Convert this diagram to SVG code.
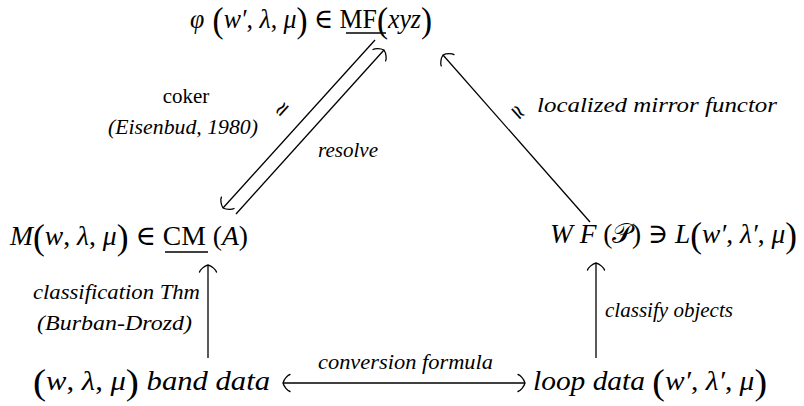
<svg xmlns="http://www.w3.org/2000/svg" width="804" height="406" viewBox="0 0 804 406">
<defs>
<style>
.m { font-family: "Liberation Serif", "DejaVu Serif", serif; font-size: 28px; fill: #000; }
.i { font-style: italic; }
.bp { font-size: 36px; font-style: normal; }
.lab { font-family: "Liberation Serif", "DejaVu Serif", serif; font-size: 21px; fill: #000; }
.conn line { stroke: #000; stroke-width: 1.3; fill: none; }
.ul { stroke: #000; stroke-width: 1.3; }
</style>
<marker id="to" viewBox="-10 -10 12 20" refX="0" refY="0" markerWidth="12" markerHeight="20" markerUnits="userSpaceOnUse" orient="auto-start-reverse">
<path d="M-7,-8.5 C-5,-8 -1,-4 0,0 C-1,4 -5,8 -7,8.5" fill="none" stroke="#000" stroke-width="1.3" stroke-linecap="round"/>
</marker>
</defs>
<rect width="804" height="406" fill="#fff"/>

<g id="node-mf">
<text class="m" x="190" y="28" textLength="242" lengthAdjust="spacingAndGlyphs"><tspan class="i">φ</tspan><tspan class="bp" dy="4"> (</tspan><tspan class="i" dy="-4">w′</tspan>, <tspan class="i">λ</tspan>, <tspan class="i">μ</tspan><tspan class="bp" dy="4">)</tspan><tspan dy="-4"> ∈ </tspan>MF<tspan class="bp" dy="4">(</tspan><tspan class="i" dy="-4">xyz</tspan><tspan class="bp" dy="4">)</tspan></text>
<line class="ul" x1="346" y1="33" x2="386" y2="33"/>
</g>

<g id="node-cm">
<text class="m" x="10" y="245" textLength="238" lengthAdjust="spacingAndGlyphs"><tspan class="i">M</tspan><tspan class="bp" dy="4">(</tspan><tspan class="i" dy="-4">w</tspan>, <tspan class="i">λ</tspan>, <tspan class="i">μ</tspan><tspan class="bp" dy="4">)</tspan><tspan dy="-4"> ∈ </tspan>CM (<tspan class="i">A</tspan>)</text>
<line class="ul" x1="165" y1="252" x2="208" y2="252"/>
</g>

<g id="node-wf">
<text class="m" x="550" y="243" textLength="247" lengthAdjust="spacingAndGlyphs"><tspan class="i">W F</tspan> (𝒫) ∋ <tspan class="i">L</tspan><tspan class="bp" dy="4">(</tspan><tspan class="i" dy="-4">w′</tspan>, <tspan class="i">λ′</tspan>, <tspan class="i">μ</tspan><tspan class="bp" dy="4">)</tspan></text>
</g>

<g id="node-band">
<text class="m" x="33" y="390" textLength="237" lengthAdjust="spacingAndGlyphs"><tspan class="bp" dy="4">(</tspan><tspan class="i" dy="-4">w</tspan>, <tspan class="i">λ</tspan>, <tspan class="i">μ</tspan><tspan class="bp" dy="4">)</tspan><tspan class="i" dy="-4">  band data</tspan></text>
</g>

<g id="node-loop">
<text class="m" x="533" y="390" textLength="234" lengthAdjust="spacingAndGlyphs"><tspan class="i">loop data </tspan><tspan class="bp" dy="4">(</tspan><tspan class="i" dy="-4">w′</tspan>, <tspan class="i">λ′</tspan>, <tspan class="i">μ</tspan><tspan class="bp" dy="4">)</tspan></text>
</g>

<g id="connectors" class="conn">
<line x1="375" y1="40" x2="223" y2="208" marker-end="url(#to)"/>
<line x1="236" y1="214" x2="384" y2="50" marker-end="url(#to)"/>
<line x1="590" y1="222" x2="443" y2="55" marker-end="url(#to)"/>
<line x1="208" y1="358" x2="208" y2="265" marker-end="url(#to)"/>
<line x1="596" y1="358" x2="596" y2="263" marker-end="url(#to)"/>
<line x1="283" y1="383" x2="525" y2="383" marker-start="url(#to)" marker-end="url(#to)"/>
</g>

<g id="labels">
<text class="lab" x="186" y="103" text-anchor="middle">coker</text>
<text class="lab i" x="108" y="134" textLength="150" lengthAdjust="spacingAndGlyphs">(Eisenbud, 1980)</text>
<text class="lab" x="282" y="109" font-size="15" text-anchor="middle" dominant-baseline="central" transform="rotate(-48 282 109)">≃</text>
<text class="lab i" x="318" y="157" textLength="60" lengthAdjust="spacingAndGlyphs">resolve</text>
<text class="lab" x="518" y="112" font-size="15" text-anchor="middle" dominant-baseline="central" transform="rotate(48 518 112)">≃</text>
<text class="lab i" x="537" y="112" textLength="240" lengthAdjust="spacingAndGlyphs">localized mirror functor</text>
<text class="lab i" x="33" y="299" textLength="167" lengthAdjust="spacingAndGlyphs">classification Thm</text>
<text class="lab i" x="37" y="330" textLength="155" lengthAdjust="spacingAndGlyphs">(Burban-Drozd)</text>
<text class="lab i" x="605" y="317" textLength="128" lengthAdjust="spacingAndGlyphs">classify objects</text>
<text class="lab i" x="318" y="369" textLength="175" lengthAdjust="spacingAndGlyphs">conversion formula</text>
</g>
</svg>
